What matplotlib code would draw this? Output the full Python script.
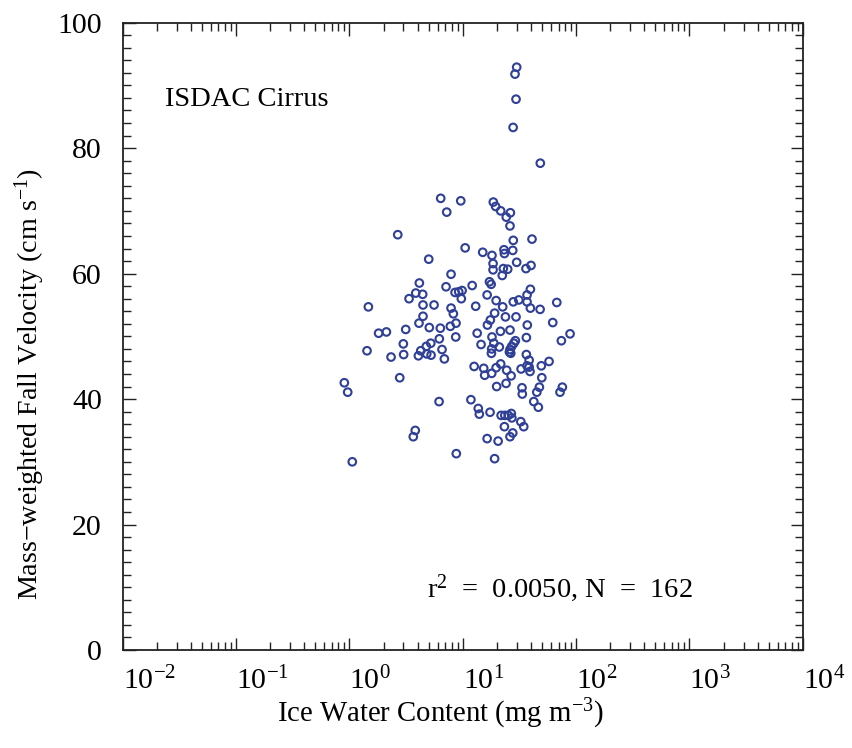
import numpy as np
import matplotlib
matplotlib.use('Agg')
import matplotlib.pyplot as plt
from matplotlib.ticker import LogLocator, FixedLocator, MultipleLocator, NullFormatter

plt.rcParams['font.family'] = ['Liberation Serif', 'DejaVu Serif']
plt.rcParams['mathtext.fontset'] = 'custom'
plt.rcParams['mathtext.rm'] = 'Liberation Serif'
plt.rcParams['mathtext.it'] = 'Liberation Serif:italic'

# ice water content (mg m-3) and mass-weighted fall velocity (cm s-1)
iwc = [29.9, 28.9, 29.5, 27.8, 48.3, 6.39, 9.60, 7.22, 18.6, 19.5,
       21.6, 26.3, 24.2, 26.1, 2.67, 27.9, 40.8, 10.5, 15.0, 18.1,
       23.1, 23.3, 27.6, 5.01, 18.5, 29.9, 40.0, 36.1, 22.8, 24.9,
       18.5, 22.3, 7.88, 4.14, 7.12, 12.1, 17.2, 17.8, 8.55, 9.21,
       9.86, 3.85, 4.43, 3.36, 9.71, 16.4, 19.7, 39.5, 36.9, 27.9,
       31.2, 36.9, 67.5, 1.47, 4.46, 5.58, 7.88, 13.0, 22.5, 39.5,
       48.1, 8.26, 19.1, 4.46, 17.5, 23.8, 29.5, 62.2, 4.11, 8.72,
       7.77, 16.5, 37.1, 5.07, 6.34, 3.14, 1.81, 2.12, 13.4, 21.5,
       26.1, 88.4, 8.67, 18.1, 36.4, 6.21, 74.1, 2.99, 5.22, 14.5,
       18.8, 29.1, 28.2, 27.0, 4.77, 21.0, 1.43, 4.26, 6.56, 18.0,
       26.1, 25.8, 26.5, 3.01, 4.06, 4.81, 5.25, 17.9, 2.33, 6.88,
       36.4, 38.5, 57.7, 12.6, 15.3, 19.7, 21.6, 24.4, 32.7, 36.9,
       38.5, 39.2, 49.3, 15.6, 18.0, 26.7, 2.78, 49.8, 0.902, 0.966,
       19.9, 24.1, 33.3, 33.5, 47.4, 45.0, 75.6, 72.1, 6.18, 11.8,
       13.7, 14.0, 17.4, 21.8, 23.5, 25.2, 26.8, 27.1, 42.3, 46.4,
       32.5, 34.5, 23.3, 27.6, 26.1, 3.81, 3.66, 16.4, 20.5, 1.06,
       8.77, 19.1]
vel = [92.9, 91.8, 87.8, 83.3, 77.6, 72.0, 71.6, 69.8, 71.4, 70.7,
       70.0, 69.7, 69.0, 67.6, 66.2, 65.3, 65.5, 64.1, 63.4, 62.9,
       63.8, 63.2, 63.7, 62.3, 61.6, 61.8, 61.3, 60.8, 60.8, 60.7,
       60.6, 59.7, 59.9, 58.5, 57.9, 58.1, 58.7, 58.3, 57.0, 57.1,
       57.3, 56.9, 56.7, 56.0, 56.0, 56.6, 55.7, 57.5, 56.6, 55.5,
       55.8, 55.5, 55.4, 54.7, 55.0, 55.0, 54.5, 54.8, 54.7, 54.5,
       54.3, 53.6, 53.7, 53.2, 52.6, 53.1, 53.1, 52.2, 52.1, 52.1,
       51.6, 51.8, 51.8, 51.4, 51.3, 51.1, 50.5, 50.7, 50.5, 50.8,
       51.0, 50.4, 49.9, 49.9, 49.8, 49.6, 49.3, 48.8, 48.9, 48.7,
       48.9, 49.3, 48.9, 48.4, 48.4, 48.3, 47.7, 47.7, 47.9, 48.0,
       47.9, 47.5, 47.3, 47.1, 46.9, 47.2, 47.0, 47.3, 46.7, 46.4,
       47.1, 46.2, 46.0, 45.2, 44.9, 45.0, 45.6, 44.6, 44.8, 45.3,
       45.1, 44.4, 45.3, 43.8, 44.1, 43.7, 43.4, 43.4, 42.6, 41.1,
       42.0, 42.5, 41.8, 40.8, 41.9, 41.1, 41.9, 41.1, 39.6, 39.9,
       38.5, 37.6, 37.9, 37.4, 37.4, 37.4, 37.7, 37.0, 39.6, 38.7,
       36.4, 35.6, 35.6, 34.6, 34.0, 35.0, 34.0, 33.7, 33.3, 30.0,
       31.3, 30.5]

decades = [1e-2, 1e-1, 1e0, 1e1, 1e2, 1e3, 1e4]
decade_labels = ['$10^{-2}$', '$10^{-1}$', '$10^{0}$', '$10^{1}$',
                 '$10^{2}$', '$10^{3}$', '$10^{4}$']

fig = plt.figure(figsize=(8.52, 7.48), dpi=100)
ax = fig.add_axes([0.1440, 0.1310, 0.7983, 0.8387])

ax.scatter(iwc, vel, s=30, facecolors='none', edgecolors='#2f4096', linewidths=1.5)

ax.set_xscale('log')
ax.set_xlim(1e-2, 1e4)
ax.set_ylim(0, 100)

ax.xaxis.set_major_locator(FixedLocator(decades))
ax.set_xticklabels(decade_labels)
ax.xaxis.set_minor_locator(LogLocator(base=10, subs=np.arange(2, 10), numticks=20))
ax.xaxis.set_minor_formatter(NullFormatter())
for lab in ax.get_xticklabels():
    lab.set_horizontalalignment('left')

ax.yaxis.set_major_locator(MultipleLocator(20))
ax.yaxis.set_minor_locator(MultipleLocator(2))

ax.tick_params(which='both', direction='in', top=True, right=True,
               width=1.0, color='#222222', labelsize=21.5)
ax.tick_params(which='major', length=9)
ax.tick_params(which='minor', length=5.5)
ax.tick_params(axis='x', which='major', pad=12)
ax.tick_params(axis='y', which='major', pad=15)
for sp in ax.spines.values():
    sp.set_linewidth(1.3)
    sp.set_color('#222222')

ax.set_xlabel('Ice Water Content (mg m$^{-3}$)', fontsize=20.7)
ax.xaxis.set_label_coords(0.467, -0.075)
ax.set_ylabel('Mass\u2212weighted Fall Velocity (cm s$^{-1}$)', fontsize=20.2)
ax.yaxis.set_label_coords(-0.112, 0.424)

ax.text(0.062, 0.878, 'ISDAC Cirrus', transform=ax.transAxes,
        fontsize=20.5, ha='left', va='center')
ax.text(0.4475, 0.099, 'r$^{2}$  =  0.0050, N  =  162', transform=ax.transAxes,
        fontsize=20.5, ha='left', va='center')

plt.savefig('out.png', dpi=100)
